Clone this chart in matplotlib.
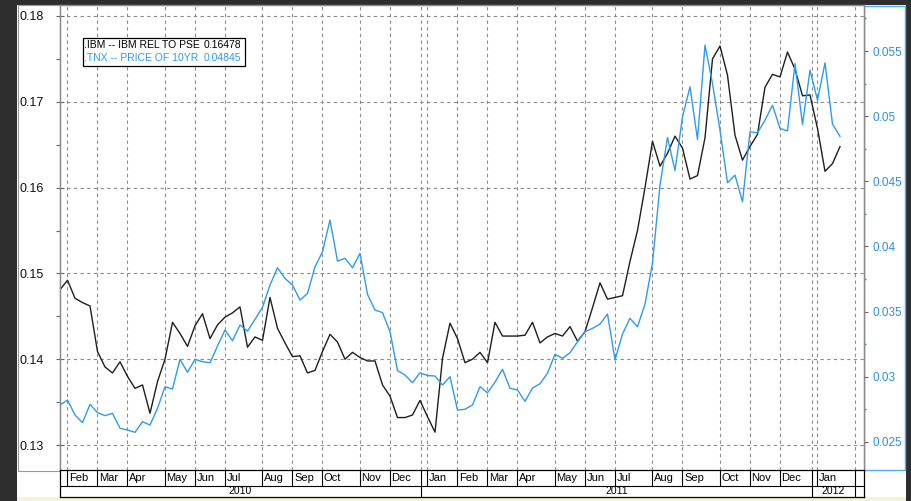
import matplotlib
matplotlib.use('Agg')
import matplotlib.pyplot as plt
from matplotlib.patches import Rectangle
import pandas as pd

plt.rcParams['font.family'] = ['Liberation Sans', 'DejaVu Sans']

# weekly closes (Fridays), Jan 29 2010 .. Jan 27 2012
dates = pd.date_range('2010-01-29', '2012-01-27', freq='W-FRI')

ibm_rel_pse = [
    0.1481, 0.1492, 0.1471, 0.1466, 0.1462, 0.1409, 0.1391, 0.1384, 0.1397, 0.1380,
    0.1366, 0.1370, 0.1337, 0.1374, 0.1400, 0.1443, 0.1430, 0.1415, 0.1439, 0.1453,
    0.1424, 0.1440, 0.1449, 0.1454, 0.1461, 0.1414, 0.1426, 0.1422, 0.1472, 0.1436,
    0.1419, 0.1403, 0.1404, 0.1384, 0.1387, 0.1409, 0.1429, 0.1420, 0.1400, 0.1408,
    0.1402, 0.1398, 0.1398, 0.1370, 0.1357, 0.1332, 0.1332, 0.1335, 0.1352, 0.1333,
    0.1315, 0.1401, 0.1442, 0.1424, 0.1396, 0.1400, 0.1408, 0.1396, 0.1443, 0.1427,
    0.1427, 0.1427, 0.1428, 0.1443, 0.1419, 0.1426, 0.1430, 0.1427, 0.1438, 0.1421,
    0.1432, 0.1460, 0.1489, 0.1470, 0.1472, 0.1474, 0.1514, 0.1550, 0.1600, 0.1654,
    0.1625, 0.1640, 0.1660, 0.1646, 0.1610, 0.1614, 0.1658, 0.1750, 0.1765, 0.1731,
    0.1661, 0.1632, 0.1648, 0.1662, 0.1717, 0.1732, 0.1729, 0.1758, 0.1738, 0.1707,
    0.1708, 0.1669, 0.1619, 0.1628, 0.16478,
]

tnx_10yr = [
    0.02784, 0.02822, 0.02707, 0.02648, 0.02789, 0.02725, 0.02702, 0.02720, 0.02605, 0.02592,
    0.02574, 0.02656, 0.02630, 0.02758, 0.02924, 0.02906, 0.03134, 0.03035, 0.03134, 0.03116,
    0.03108, 0.03236, 0.03359, 0.03277, 0.03397, 0.03351, 0.03441, 0.03533, 0.03704, 0.03837,
    0.03755, 0.03704, 0.03589, 0.03640, 0.03844, 0.03959, 0.04203, 0.03888, 0.03909, 0.03837,
    0.03947, 0.03633, 0.03512, 0.03493, 0.03346, 0.03048, 0.03014, 0.02955, 0.03031, 0.03010,
    0.03006, 0.02937, 0.03001, 0.02745, 0.02751, 0.02784, 0.02924, 0.02877, 0.02959, 0.03058,
    0.02912, 0.02899, 0.02812, 0.02914, 0.02947, 0.03027, 0.03173, 0.03142, 0.03185, 0.03269,
    0.03346, 0.03372, 0.03405, 0.03482, 0.03131, 0.03328, 0.03449, 0.03384, 0.03558, 0.03873,
    0.04471, 0.04837, 0.04582, 0.04995, 0.05225, 0.04821, 0.05545, 0.05251, 0.04893, 0.04489,
    0.04548, 0.04343, 0.04880, 0.04872, 0.04969, 0.05084, 0.04906, 0.04887, 0.05404, 0.04936,
    0.05353, 0.05123, 0.05409, 0.04939, 0.04845,
]

left_ticks = [0.13, 0.14, 0.15, 0.16, 0.17, 0.18]
right_ticks = [0.025, 0.03, 0.035, 0.04, 0.045, 0.05, 0.055]
years = [2010, 2011, 2012]

# x in weeks since first point
d0 = dates[0]
def wk(d):
    return (pd.Timestamp(d) - d0).days / 7.0

x = [wk(d) for d in dates]
month_pos, month_lab = [], []
prev_month = dates[0].month
for d in dates[1:]:
    if d.month != prev_month:
        month_pos.append(wk(d))
        month_lab.append(d.strftime('%b'))
    prev_month = d.month
year_bounds = [wk(f'{y}-01-01') for y in years[1:]]
end_pos = x[-1] + 2.0

W, H = 912, 501
def rect(l, t, r, b):
    return [l / W, 1 - b / H, (r - l) / W, (b - t) / H]

fig = plt.figure(figsize=(W / 100, H / 100), dpi=100, facecolor='white')

dark = '#2e2e2e'
blue = '#2e9bf0'
tick_blue = '#2f8fe8'
grid_c = '#8c8c8c'

# frame pieces around the chart
for l, t, r, b, fc in [(0, 0, 17, 501, dark), (0, 0, 912, 4.5, dark), (906, 0, 912, 501, dark),
                       (17, 497, 906, 501, '#f4f4d2')]:
    fig.patches.append(Rectangle((l / W, 1 - b / H), (r - l) / W, (b - t) / H,
                                 transform=fig.transFigure, facecolor=fc, edgecolor='none', zorder=-5))
fig.patches.append(Rectangle((18 / W, 1 - 470.5 / H), 42 / W, 465.5 / H, transform=fig.transFigure,
                             facecolor='white', edgecolor='#9a9a9a', lw=0.8, zorder=-4))
fig.patches.append(Rectangle((864 / W, 1 - 470 / H), 41.5 / W, 464.5 / H, transform=fig.transFigure,
                             facecolor='white', edgecolor='#55aaf5', lw=1.0, zorder=-4))

ax = fig.add_axes(rect(60, 5, 864, 470))
ax2 = ax.twinx()

ax.plot(x, ibm_rel_pse, color='#1e1e1e', lw=1.0, zorder=3)
ax2.plot(x, tnx_10yr, color=blue, lw=1.0, zorder=3)

ax.set_xlim(0, (864 - 60) / 7.5)
ax.set_ylim(0.12709, 0.18128)
ax2.set_ylim(0.02285, 0.05853)

# grid
ax.set_xticks(month_pos + year_bounds + [end_pos])
ax.tick_params(axis='x', length=0, labelbottom=False)
ax.set_yticks(left_ticks)
ax.set_yticks([v + 0.005 for v in left_ticks[:-1]], minor=True)
ax.set_yticklabels([f'{v:g}' for v in left_ticks], fontsize=9)
for lab in ax.get_yticklabels():
    lab.set_horizontalalignment('left')
ax.tick_params(axis='y', which='major', direction='inout', length=6, width=0.8,
               color='#666666', pad=25.9, labelcolor='#111111')
ax.tick_params(axis='y', which='minor', direction='out', length=3, width=0.8, color='#666666')
ax.grid(True, which='major', ls=(0, (3, 3)), color=grid_c, lw=0.8)

ax2.set_yticks(right_ticks)
ax2.set_yticks([v + 0.0025 for v in right_ticks[:-1]] + [0.0575], minor=True)
ax2.set_yticklabels([f'{v:g}' for v in right_ticks], fontsize=8.5)
ax2.tick_params(axis='y', which='major', direction='out', length=3, width=0.8,
                color='#666666', pad=3, labelcolor=tick_blue)
ax2.tick_params(axis='y', which='minor', direction='out', length=1.5, width=1.0, color=tick_blue)

for a in (ax, ax2):
    for s in a.spines.values():
        s.set_color('#8a8a8a')
        s.set_linewidth(0.9)
ax.spines['bottom'].set_visible(False)
ax2.spines['bottom'].set_visible(False)

# legend box
ax.add_patch(Rectangle((0.0286, 0.8688), 0.2015, 0.0602, transform=ax.transAxes,
                       facecolor='white', edgecolor='black', lw=0.9, zorder=5))
ax.text(0.0299, 0.914, '.IBM -- IBM REL TO PSE', transform=ax.transAxes, fontsize=7.5,
        color='black', ha='left', va='center', zorder=6)
ax.text(0.2251, 0.914, f'{ibm_rel_pse[-1]:.5f}', transform=ax.transAxes, fontsize=7.5,
        color='black', ha='right', va='center', zorder=6)
ax.text(0.0299, 0.885, '.TNX -- PRICE OF 10YR', transform=ax.transAxes, fontsize=7.5,
        color=blue, ha='left', va='center', zorder=6)
ax.text(0.2251, 0.885, f'{tnx_10yr[-1]:.5f}', transform=ax.transAxes, fontsize=7.5,
        color=blue, ha='right', va='center', zorder=6)

# month / year strip under the chart
bx = fig.add_axes(rect(60, 470, 864, 497), sharex=ax)
bx.set_ylim(0, 1)
bx.set_yticks([])
bx.tick_params(axis='x', length=0, labelbottom=False)
split = 11 / 27
bx.axhline(split, color='black', lw=0.8)
bx.vlines(month_pos, split, 1, color='black', lw=0.8)
bx.vlines(year_bounds + [end_pos], 0, 1, color='black', lw=0.8)
for p, m in zip(month_pos, month_lab):
    bx.text(p + 0.2, (1 + split) / 2, m, fontsize=8, ha='left', va='center', color='black')
edges = [0] + year_bounds + [end_pos]
for i, y in enumerate(years):
    bx.text((edges[i] + edges[i + 1]) / 2, split / 2, str(y), fontsize=7.5,
            ha='center', va='center', color='black')
for s in bx.spines.values():
    s.set_color('black')
    s.set_linewidth(0.9)

fig.savefig('out.png', dpi=100, facecolor='white')
